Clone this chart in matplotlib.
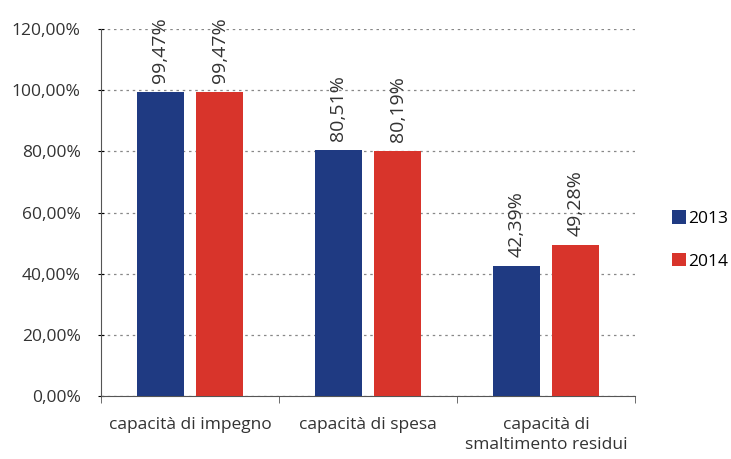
import numpy as np
import matplotlib.pyplot as plt
from matplotlib.ticker import FuncFormatter

categories = ["capacità di impegno", "capacità di spesa", "capacità di\nsmaltimento residui"]
years = ["2013", "2014"]
vals_2013 = [99.47, 80.51, 42.39]
vals_2014 = [99.47, 80.19, 49.28]
colors = ["#1f3a82", "#d8342b"]

plt.rcParams['font.family'] = ['Open Sans', 'DejaVu Sans']

fig = plt.figure(figsize=(7.31, 4.59), dpi=100)
ax = fig.add_axes([0.138, 0.137, 0.731, 0.800])

x = np.arange(len(categories))
w = 0.264
off = 0.166
for vals, dx, c, lab in [(vals_2013, -off, colors[0], years[0]), (vals_2014, off, colors[1], years[1])]:
    bars = ax.bar(x + dx, vals, w, color=c, label=lab, zorder=3)
    for b, v in zip(bars, vals):
        ax.text(b.get_x() + b.get_width() / 2, v + 3, f"{v:.2f}%".replace(".", ","),
                rotation=90, ha="center", va="bottom", fontsize=14, color="#333333")

ax.set_xlim(-0.5, 2.5)
ax.set_ylim(0, 120)
ax.set_yticks(np.arange(0, 121, 20))
ax.yaxis.set_major_formatter(FuncFormatter(lambda v, p: f"{v:.2f}%".replace(".", ",")))
ax.set_xticks(x)
ax.set_xticklabels(categories, fontsize=12.5, color="#333333", linespacing=1.35)
ax.tick_params(axis="x", length=0, pad=15)
ax.tick_params(axis="y", labelsize=12.5, labelcolor="#333333", length=5, direction="inout", pad=12)
ax.set_xticks([-0.5, 0.5, 1.5, 2.5], minor=True)
ax.tick_params(axis="x", which="minor", length=5, color="#555555")
ax.grid(axis="y", linestyle=(0, (2, 3)), color="#888888", linewidth=0.9, zorder=0)
for s in ["top", "right"]:
    ax.spines[s].set_visible(False)
ax.spines["left"].set_color("#555555")
ax.spines["bottom"].set_color("#555555")

ax.legend(loc="center left", bbox_to_anchor=(1.04, 0.425), frameon=False, fontsize=12.5,
          handlelength=0.8, handleheight=0.8, handletextpad=0.1, labelspacing=1.5)

fig.savefig("out.png", dpi=100)
